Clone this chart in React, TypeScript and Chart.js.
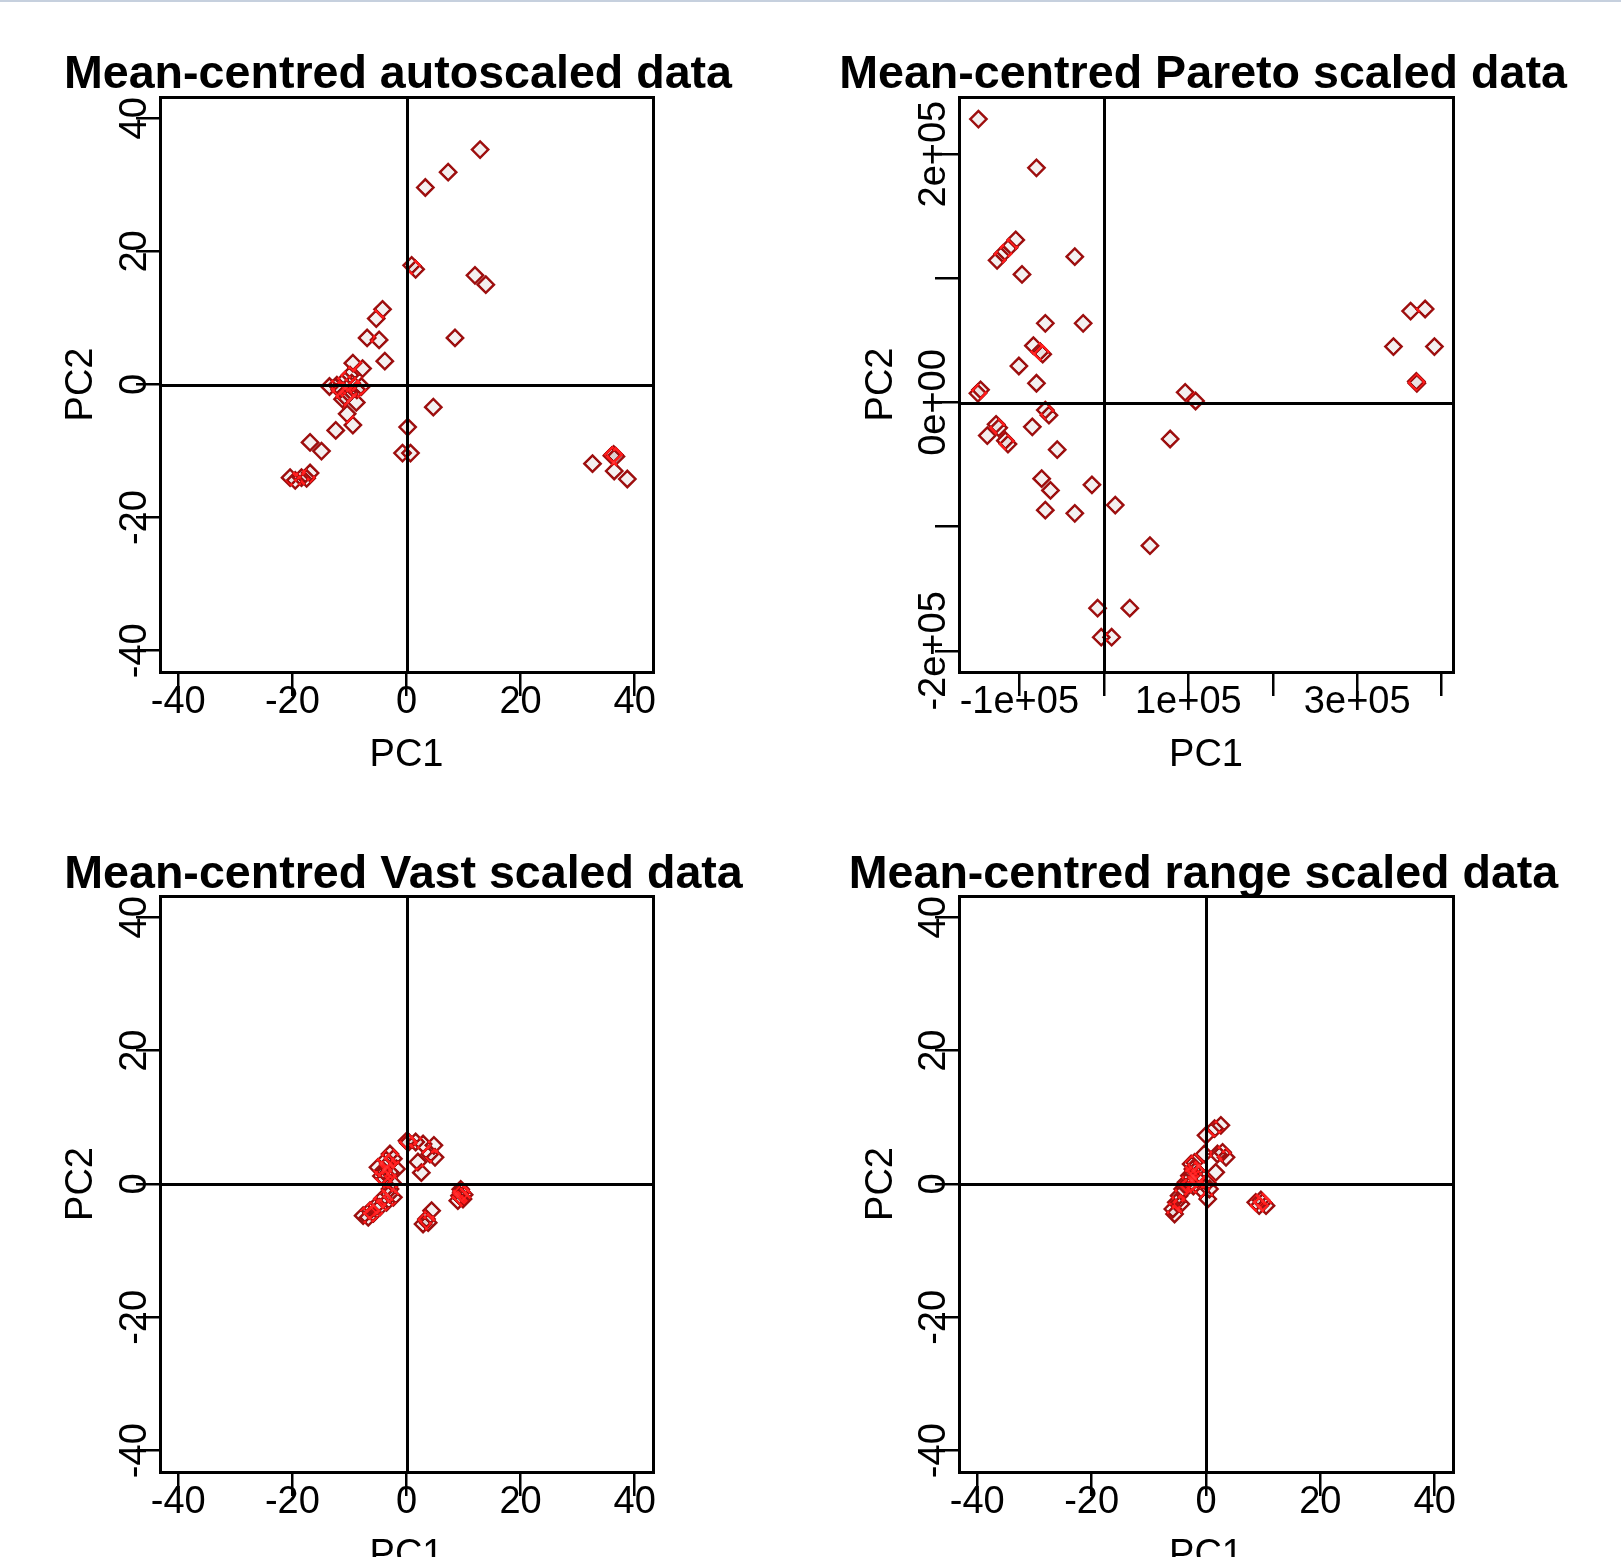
import React, { useEffect, useRef } from 'react';
import { Chart, registerables } from 'chart.js';

Chart.register(...registerables);

if (typeof document !== 'undefined') {
  document.body.style.margin = '0';
  document.body.style.overflow = 'hidden';
}

// ---------------- data ----------------
const autoX = [12.9, 7.3, 3.3, 0.9, 1.6, 12.0, 13.9, -4.2, -5.3, -6.9, -4.8, 8.5, -3.8, -9.4, -7.7, -9.9, -10.8, -13.5, -12.2, -11.7, -10.2, -8.7, -7.9, -10.8, -8.8, -11.2, -9.6, -10.4, -9.4, -12.4, 4.7, 0.2, -0.7, 0.7, -16.9, -14.9, -20.4, -19.5, -18.4, -16.9, -17.5, 32.6, 36.3, 36.7, 36.0, 36.4, 38.7];
const autoY = [35.3, 31.9, 29.6, 17.9, 17.3, 16.4, 15.0, 11.3, 9.9, 7.0, 6.7, 7.0, 3.5, 3.2, 2.4, 1.4, 0.6, -0.3, -0.1, -0.8, -1.3, -0.8, -0.3, -1.8, -2.7, -2.2, 0.2, -4.4, -6.1, -6.9, -3.4, -6.4, -10.3, -10.3, -8.7, -10.0, -14.0, -14.4, -14.0, -13.3, -14.1, -11.9, -10.5, -10.8, -10.7, -13.0, -14.2];

const paretoX = [-148500, -79800, -104300, -112300, -119600, -126400, -96900, -34400, -69300, -24500, -83400, -75500, -72400, -100600, -79800, -146000, -149100, -69300, -65000, -84700, -127600, -124500, -138000, -116600, -113500, -55200, -73600, -63200, -14100, -69300, -34400, 13500, 54600, -7400, 30700, -3100, 9200, 96300, 108600, 78500, 363200, 380400, 342900, 391400, 370600, 370000];
const paretoY = [228200, 189000, 130900, 124700, 119800, 114500, 103100, 117400, 63800, 63800, 45800, 40900, 38900, 29400, 15500, 10200, 7400, -6100, -10200, -19600, -17600, -20400, -26600, -30700, -33500, -38000, -61300, -70800, -66300, -86700, -89200, -82600, -115300, -165600, -165600, -189000, -189000, 8200, 1200, -29400, 73600, 75300, 45000, 45000, 15500, 17000];

const vastX = [0.1, 0.3, 1.6, 2.9, 4.8, 4.1, 5.0, 2.0, 2.6, -2.9, -2.3, -3.2, -5.0, -4.1, -2.9, -1.75, -3.6, -4.4, -3.8, -2.5, -2.9, -2.3, -3.5, -4.7, -5.3, -6.4, -7.6, -6.7, -5.8, -4.2, -3.0, 9.3, 9.6, 9.9, 9.0, 10.1, 9.5, 4.4, 3.5, 2.9, 3.8];
const vastY = [6.5, 6.2, 6.3, 6.0, 5.8, 4.5, 4.0, 3.3, 1.7, 4.5, 3.8, 3.0, 2.5, 2.0, 1.75, 2.25, 3.6, 1.2, 0.75, 0.2, -0.75, -2.0, -2.75, -3.5, -3.25, -4.0, -4.75, -5.0, -4.4, -2.2, -1.5, -1.75, -1.25, -2.25, -2.5, -1.6, -0.8, -4.0, -5.25, -6.0, -5.8];

const rangeX = [2.6, 1.5, 0.0, 2.9, 3.5, 2.0, -0.3, 1.7, 0.6, 0.3, -2.0, -2.6, -2.3, -2.9, -1.2, -3.5, -1.5, -4.1, -0.9, -4.7, -5.2, -4.4, -5.8, -5.5, -1.8, -3.0, -2.2, 0.2, 8.7, 9.9, 9.3, 10.5, 9.6];
const rangeY = [8.8, 8.3, 7.3, 4.75, 4.0, 4.5, 4.5, 1.75, -0.75, -2.25, 3.25, 3.0, 2.25, 1.25, 1.5, 0.25, 0.75, -0.75, -0.75, -1.75, -2.75, -3.0, -3.75, -4.5, 2.0, -0.2, -0.3, 0.2, -2.75, -2.75, -3.25, -3.25, -2.4];

const pcTicks = [-40, -20, 0, 20, 40];
const pcTickLabels = ['-40', '-20', '0', '20', '40'];
const paretoXTicks = [-100000, 0, 100000, 200000, 300000, 400000];
const paretoXTickLabels = ['-1e+05', '', '1e+05', '', '3e+05', ''];
const paretoYTicks = [-200000, -100000, 0, 100000, 200000];
const paretoYTickLabels = ['-2e+05', '', '0e+00', '', '2e+05'];

const titles = [
  'Mean-centred autoscaled data',
  'Mean-centred Pareto scaled data',
  'Mean-centred Vast scaled data',
  'Mean-centred range scaled data',
];
const xAxisTitle = 'PC1';
const yAxisTitle = 'PC2';

// ---------------- styling / layout ----------------
const FONT = '"Liberation Sans", Arial, Helvetica, sans-serif';
const TICK_PX = 38;
const LAB_PX = 38;
const TITLE_PX = 46.6;
const TL = 24;

type Panel = {
  key: string;
  title: string;
  xs: number[];
  ys: number[];
  xRange: [number, number];
  yRange: [number, number];
  xTicks: number[];
  xLabels: string[];
  yTicks: number[];
  yLabels: string[];
  canvas: { left: number; top: number; width: number; height: number };
  area: { left: number; top: number; right: number; bottom: number };
  titleCY: number;
  yTitleCX: number;
  xTitleCY: number;
};

// canvas width is chosen so that the canvas centre is the title centre
const panels: Panel[] = [
  {
    key: 'auto', title: titles[0], xs: autoX, ys: autoY,
    xRange: [-43.2, 43.2], yRange: [-43.2, 43.2],
    xTicks: pcTicks, xLabels: pcTickLabels, yTicks: pcTicks, yLabels: pcTickLabels,
    canvas: { left: 0, top: 0, width: 796, height: 790 },
    area: { left: 160, top: 97, right: 653, bottom: 672 },
    titleCY: 75, yTitleCX: 82, xTitleCY: 756,
  },
  {
    key: 'pareto', title: titles[1], xs: paretoX, ys: paretoY,
    xRange: [-171500, 413400], yRange: [-217000, 246000],
    xTicks: paretoXTicks, xLabels: paretoXTickLabels, yTicks: paretoYTicks, yLabels: paretoYTickLabels,
    canvas: { left: 805, top: 0, width: 796, height: 790 },
    area: { left: 959, top: 97, right: 1453, bottom: 672 },
    titleCY: 75, yTitleCX: 882, xTitleCY: 756,
  },
  {
    key: 'vast', title: titles[2], xs: vastX, ys: vastY,
    xRange: [-43.2, 43.2], yRange: [-43.2, 43.2],
    xTicks: pcTicks, xLabels: pcTickLabels, yTicks: pcTicks, yLabels: pcTickLabels,
    canvas: { left: 0, top: 790, width: 807, height: 800 },
    area: { left: 160, top: 896, right: 653, bottom: 1472 },
    titleCY: 875, yTitleCX: 82, xTitleCY: 1556,
  },
  {
    key: 'range', title: titles[3], xs: rangeX, ys: rangeY,
    xRange: [-43.2, 43.2], yRange: [-43.2, 43.2],
    xTicks: pcTicks, xLabels: pcTickLabels, yTicks: pcTicks, yLabels: pcTickLabels,
    canvas: { left: 805, top: 790, width: 797, height: 800 },
    area: { left: 959, top: 896, right: 1453, bottom: 1472 },
    titleCY: 875, yTitleCX: 882, xTitleCY: 1556,
  },
];

function widestText(labels: string[], px: number): number {
  const c = document.createElement('canvas').getContext('2d');
  if (!c) return 0;
  c.font = `${px}px ${FONT}`;
  let w = 0;
  for (const l of labels) w = Math.max(w, c.measureText(l).width);
  return w;
}

// Overlapping markers add up to a brighter red, like the reference image.
const blendPlugin = {
  id: 'rblend',
  beforeDatasetsDraw(chart: any) {
    chart.ctx.save();
    chart.ctx.globalCompositeOperation = 'lighter';
  },
  afterDatasetsDraw(chart: any) {
    chart.ctx.restore();
  },
};

const framePlugin = {
  id: 'rframe',
  afterDraw(chart: any) {
    const { ctx, chartArea: a, scales } = chart;
    const x0 = Math.round(scales.x.getPixelForValue(0)) + 0.5;
    const y0 = Math.round(scales.y.getPixelForValue(0)) + 0.5;
    ctx.save();
    ctx.globalCompositeOperation = 'source-over';
    ctx.strokeStyle = '#000';
    ctx.lineWidth = 3;
    ctx.beginPath();
    ctx.moveTo(x0, a.top);
    ctx.lineTo(x0, a.bottom);
    ctx.moveTo(a.left, y0);
    ctx.lineTo(a.right, y0);
    ctx.stroke();
    const l = Math.round(a.left) + 0.5;
    const t = Math.round(a.top) + 0.5;
    const r = Math.round(a.right) + 0.5;
    const b = Math.round(a.bottom) + 0.5;
    ctx.strokeRect(l, t, r - l, b - t);
    ctx.restore();
  },
};

function buildConfig(p: Panel): any {
  const { left: cl, top: ct, width: W, height: H } = p.canvas;
  const aL = p.area.left - cl;
  const aT = p.area.top - ct;
  const aR = p.area.right - cl;
  const aB = p.area.bottom - ct;
  const tickFont = { family: FONT, size: TICK_PX, lineHeight: 1 };
  const labFont = { family: FONT, size: LAB_PX, lineHeight: 1 };
  const titleTop = p.titleCY - ct - TITLE_PX / 2;
  const widest = widestText(p.yLabels, TICK_PX);
  const xLabelGap = 31; // box edge -> label centre
  const yLabelGap = 24;

  const gridOpts = {
    drawOnChartArea: false,
    drawTicks: true,
    tickLength: TL,
    tickWidth: 2.5,
    lineWidth: 2.5,
    tickColor: '#000',
    color: '#000',
  };

  return {
    type: 'scatter',
    data: {
      datasets: [
        {
          data: p.xs.map((x, i) => ({ x, y: p.ys[i] })),
          xAxisID: 'x',
          yAxisID: 'y',
          pointStyle: 'rectRot',
          pointRadius: 8.2,
          pointHoverRadius: 8.2,
          borderWidth: 2.4,
          borderColor: 'rgb(156,14,14)',
          backgroundColor: 'rgba(60,0,0,0.06)',
        },
      ],
    },
    options: {
      animation: false,
      responsive: false,
      maintainAspectRatio: false,
      events: [],
      layout: { padding: 0 },
      plugins: {
        legend: { display: false },
        tooltip: { enabled: false },
        title: {
          display: true,
          text: p.title,
          color: '#000',
          font: { family: FONT, size: TITLE_PX, weight: 'bold', lineHeight: 1 },
          padding: { top: titleTop, bottom: aT - titleTop - TITLE_PX },
        },
      },
      scales: {
        x: {
          type: 'linear',
          position: 'bottom',
          min: p.xRange[0],
          max: p.xRange[1],
          afterBuildTicks: (s: any) => {
            s.ticks = p.xTicks.map((v) => ({ value: v }));
          },
          afterFit: (s: any) => {
            s.height = H - aB;
          },
          border: { display: false },
          grid: gridOpts,
          ticks: {
            autoSkip: false,
            minRotation: 0,
            maxRotation: 0,
            color: '#000',
            font: tickFont,
            padding: xLabelGap - TL - TICK_PX / 2,
            callback: (_v: any, i: number) => p.xLabels[i],
          },
          title: {
            display: true,
            text: xAxisTitle,
            color: '#000',
            font: labFont,
            padding: { top: 0, bottom: H - (p.xTitleCY - ct) - LAB_PX / 2 },
          },
        },
        y: {
          type: 'linear',
          position: 'left',
          min: p.yRange[0],
          max: p.yRange[1],
          afterBuildTicks: (s: any) => {
            s.ticks = p.yTicks.map((v) => ({ value: v }));
          },
          afterFit: (s: any) => {
            s.width = aL;
          },
          border: { display: false },
          grid: gridOpts,
          ticks: {
            autoSkip: false,
            minRotation: 90,
            maxRotation: 90,
            crossAlign: 'center',
            color: '#000',
            font: tickFont,
            padding: yLabelGap - TL - widest / 2,
            callback: (_v: any, i: number) => p.yLabels[i],
          },
          title: {
            display: true,
            text: yAxisTitle,
            color: '#000',
            font: labFont,
            padding: { top: p.yTitleCX - cl - LAB_PX / 2, bottom: 0 },
          },
        },
        // empty right-hand spacer so the title can be centred over the whole canvas
        yRightSpace: {
          type: 'linear',
          position: 'right',
          min: p.yRange[0],
          max: p.yRange[1],
          afterFit: (s: any) => {
            s.width = W - aR;
          },
          border: { display: false },
          grid: { display: false },
          ticks: { display: false },
          title: { display: false },
        },
      },
    },
    plugins: [blendPlugin, framePlugin],
  };
}

function PanelChart({ panel }: { panel: Panel }) {
  const ref = useRef<HTMLCanvasElement | null>(null);
  useEffect(() => {
    if (!ref.current) return;
    const chart = new Chart(ref.current, buildConfig(panel));
    return () => chart.destroy();
  }, [panel]);
  const c = panel.canvas;
  return (
    <canvas
      ref={ref}
      width={c.width}
      height={c.height}
      style={{ position: 'absolute', left: c.left, top: c.top, width: c.width, height: c.height }}
    />
  );
}

export default function App() {
  return (
    <div style={{ position: 'relative', width: 1621, height: 1557, overflow: 'hidden', background: '#ffffff' }}>
      <div style={{ position: 'absolute', left: 0, top: 0, width: 1621, height: 2, background: '#c6d0de' }} />
      {panels.map((p) => (
        <PanelChart key={p.key} panel={p} />
      ))}
    </div>
  );
}
